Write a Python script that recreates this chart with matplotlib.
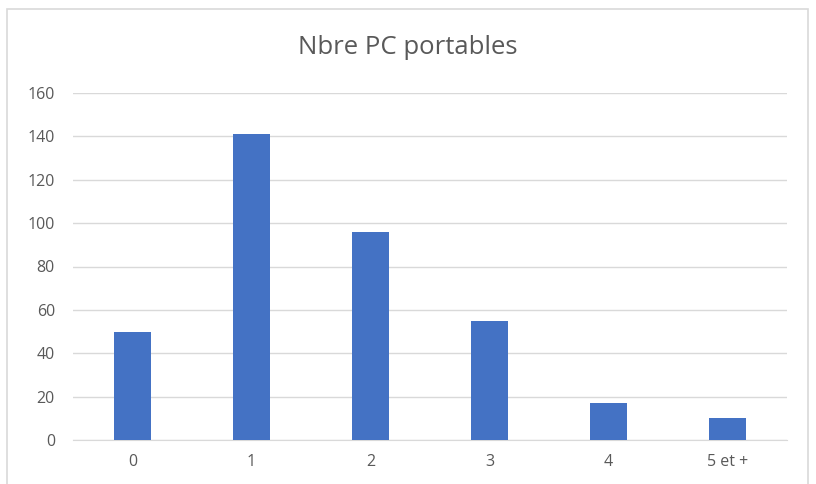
import matplotlib
matplotlib.use("Agg")
import matplotlib.pyplot as plt
from matplotlib.patches import Rectangle

categories = ["0", "1", "2", "3", "4", "5 et +"]
values = [50, 141, 96, 55, 17, 10]
yticks = [0, 20, 40, 60, 80, 100, 120, 140, 160]
title = "Nbre PC portables"

plt.rcParams['font.family'] = ['Open Sans', 'DejaVu Sans']

fig = plt.figure(figsize=(8.16, 4.84), dpi=100)
fig.patch.set_facecolor("white")
fig.add_artist(Rectangle((7/816, -0.05), (808-7)/816, 1 - 9/484 + 0.05,
                         transform=fig.transFigure, fill=False,
                         edgecolor="#D9D9D9", linewidth=1.2))

ax = fig.add_axes([73/816, 1-440/484, (787-73)/816, (440-93)/484])
x = range(len(categories))
ax.bar(x, values, width=0.31, color="#4472C4", zorder=3)
ax.set_xlim(-0.5, len(categories)-0.5)
ax.set_ylim(0, 160)
ax.set_yticks(yticks)
ax.set_xticks(list(x))
ax.set_xticklabels(categories)
ax.grid(axis="y", color="#D9D9D9", linewidth=1, zorder=0)
for s in ["top", "right", "left"]:
    ax.spines[s].set_visible(False)
ax.spines["bottom"].set_color("#D9D9D9")
ax.tick_params(axis="both", length=0, colors="#595959", labelsize=11.5)
ax.tick_params(axis="y", pad=13)
ax.tick_params(axis="x", pad=10)
fig.text(0.5, 1-47/484, title, ha="center", va="center", fontsize=18.5, color="#595959")

fig.savefig("out.png", dpi=100)
